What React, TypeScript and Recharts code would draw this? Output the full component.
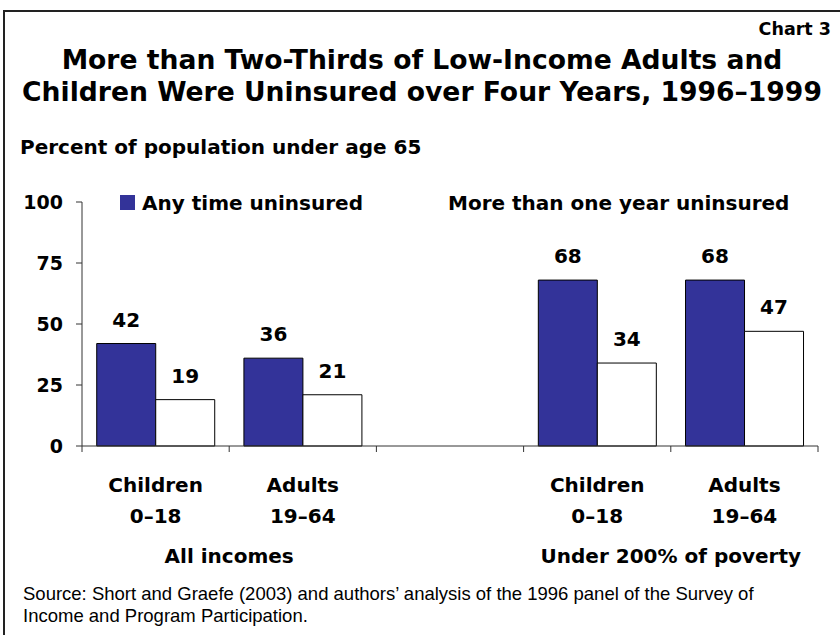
import React from "react";
import { BarChart, Bar, XAxis, YAxis, LabelList } from "recharts";

const categories = ["Children", "Adults", "", "Children", "Adults"];
const ages = ["0–18", "19–64", "", "0–18", "19–64"];
const keys = ["all-children", "all-adults", "gap", "poor-children", "poor-adults"];
const anyTimeUninsured: (number | null)[] = [42, 36, null, 68, 68];
const moreThanOneYear: (number | null)[] = [19, 21, null, 34, 47];
const groups = [
  { name: "All incomes", start: 0, size: 2 },
  { name: "Under 200% of poverty", start: 3, size: 2 },
];
const yTicks = [0, 25, 50, 75, 100];

const data = keys.map((k, i) => ({
  key: k,
  any: anyTimeUninsured[i],
  more: moreThanOneYear[i],
}));

const W = 840;
const H = 635;
const Y_AXIS_W = 60;
const MARGIN = { top: 202, right: 22, left: 22, bottom: 69 };
const X_AXIS_H = 120;
const PLOT_W = W - MARGIN.left - MARGIN.right - Y_AXIS_W;
const BAND = PLOT_W / categories.length;

const BOLD = "'DejaVu Sans', sans-serif";
const BLUE = "#333399";
const AXIS = "#333";

function CatTick(props: any) {
  const { x, y, payload } = props;
  const i: number = payload && payload.index != null ? payload.index : props.index;
  const h = BAND / 2;
  const g = groups.find((gr) => gr.start === i);
  return (
    <g>
      <line x1={x - h} x2={x - h} y1={y} y2={y + 6} stroke={AXIS} strokeWidth={1} />
      {i === categories.length - 1 && (
        <line x1={x + h} x2={x + h} y1={y} y2={y + 6} stroke={AXIS} strokeWidth={1} />
      )}
      <text x={x} y={y + 45.5} textAnchor="middle" fontFamily={BOLD} fontWeight="bold" fontSize={20} fill="#000">
        {categories[i]}
      </text>
      <text x={x} y={y + 77} textAnchor="middle" fontFamily={BOLD} fontWeight="bold" fontSize={20} fill="#000">
        {ages[i]}
      </text>
      {g && (
        <text
          x={x - h + g.size * h}
          y={y + 116.5}
          textAnchor="middle"
          fontFamily={BOLD}
          fontWeight="bold"
          fontSize={20}
          fill="#000"
        >
          {g.name}
        </text>
      )}
    </g>
  );
}

export default function App() {
  return (
    <div
      style={{
        position: "absolute",
        left: 0,
        top: 0,
        width: W,
        height: H,
        background: "#fff",
        overflow: "hidden",
      }}
    >
      <div
        style={{
          position: "absolute",
          left: 3,
          top: 10,
          width: 900,
          height: 700,
          borderLeft: "2px solid #222",
          borderTop: "2px solid #222",
        }}
      />
      <div style={{ position: "absolute", left: 0, top: 0 }}>
        <BarChart width={W} height={H} data={data} margin={MARGIN} barCategoryGap="10%" barGap={0}>
          <XAxis
            dataKey="key"
            type="category"
            height={X_AXIS_H}
            interval={0}
            tickLine={false}
            tickSize={0}
            tickMargin={0}
            axisLine={{ stroke: AXIS, strokeWidth: 1 }}
            tick={<CatTick />}
          />
          <YAxis
            type="number"
            domain={[0, 100]}
            ticks={yTicks}
            interval={0}
            width={Y_AXIS_W}
            tickSize={6}
            tickMargin={13}
            axisLine={{ stroke: AXIS, strokeWidth: 1 }}
            tickLine={{ stroke: AXIS, strokeWidth: 1 }}
            tick={{ fill: "#000", fontFamily: BOLD, fontWeight: "bold", fontSize: 19 }}
          />
          <Bar dataKey="any" fill={BLUE} stroke="#000" strokeWidth={1} isAnimationActive={false}>
            <LabelList
              dataKey="any"
              position="top"
              offset={17}
              fill="#000"
              fontFamily={BOLD}
              fontWeight="bold"
              fontSize={20}
            />
          </Bar>
          <Bar dataKey="more" fill="#fff" stroke="#000" strokeWidth={1} isAnimationActive={false}>
            <LabelList
              dataKey="more"
              position="top"
              offset={17}
              fill="#000"
              fontFamily={BOLD}
              fontWeight="bold"
              fontSize={20}
            />
          </Bar>
        </BarChart>
      </div>
      <svg
        width={W}
        height={H}
        style={{ position: "absolute", left: 0, top: 0, pointerEvents: "none" }}
      >
        <text x={831} y={35} textAnchor="end" fontFamily={BOLD} fontWeight="bold" fontSize={17.5} fill="#000">
          Chart 3
        </text>
        <text x={422} y={69} textAnchor="middle" fontFamily={BOLD} fontWeight="bold" fontSize={26.6} fill="#000">
          More than Two-Thirds of Low-Income Adults and
        </text>
        <text x={422} y={101} textAnchor="middle" fontFamily={BOLD} fontWeight="bold" fontSize={26.6} fill="#000">
          Children Were Uninsured over Four Years, 1996–1999
        </text>
        <text x={20} y={154} fontFamily={BOLD} fontWeight="bold" fontSize={20} fill="#000">
          Percent of population under age 65
        </text>
        <rect x={120} y={195} width={15} height={15} fill={BLUE} />
        <text x={142} y={210} fontFamily={BOLD} fontWeight="bold" fontSize={20} fill="#000">
          Any time uninsured
        </text>
        <rect x={426} y={195} width={15} height={15} fill="#fff" />
        <text x={448} y={210} fontFamily={BOLD} fontWeight="bold" fontSize={20} fill="#000">
          More than one year uninsured
        </text>
        <text x={23} y={600} fontFamily="'Liberation Sans', Arial, sans-serif" fontSize={18.5} fill="#000">
          Source: Short and Graefe (2003) and authors’ analysis of the 1996 panel of the Survey of
        </text>
        <text x={23} y={622} fontFamily="'Liberation Sans', Arial, sans-serif" fontSize={18.5} fill="#000">
          Income and Program Participation.
        </text>
      </svg>
    </div>
  );
}
